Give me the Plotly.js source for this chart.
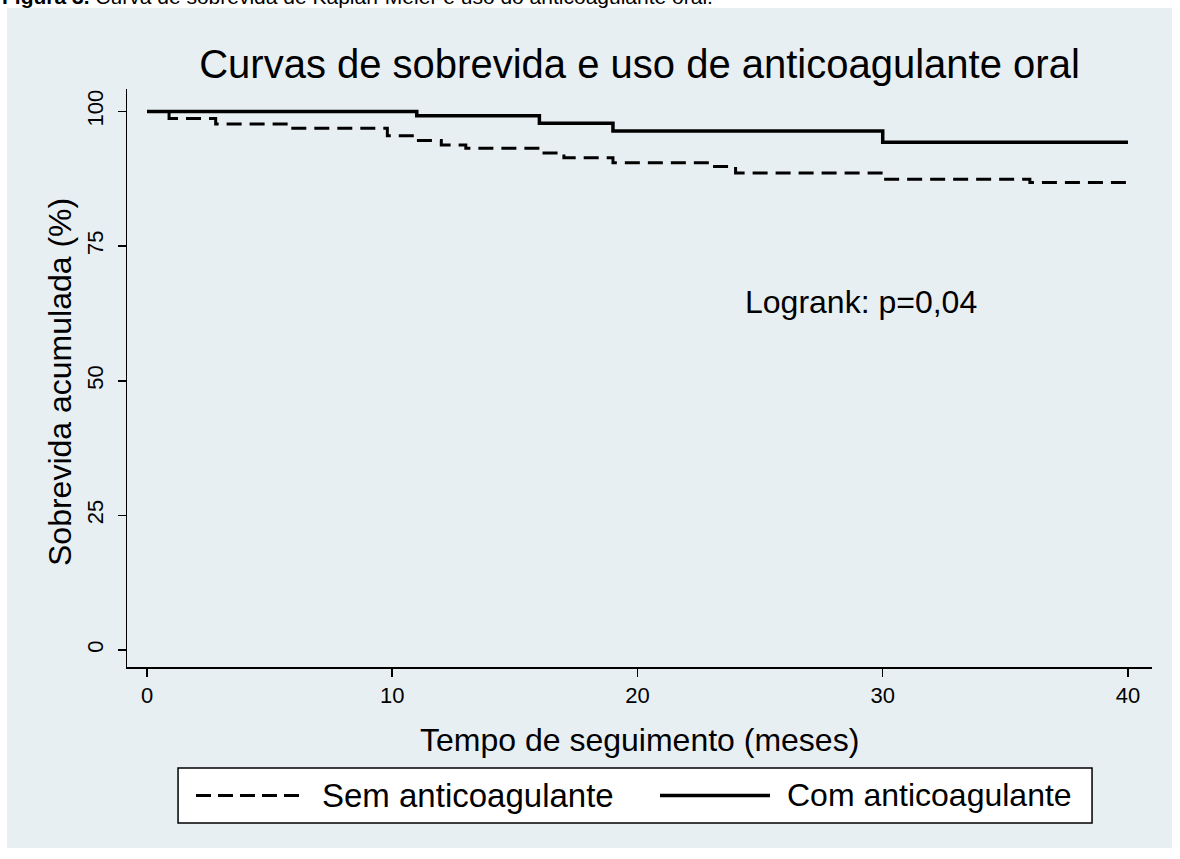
<!DOCTYPE html>
<html>
<head>
<meta charset="utf-8">
<script src="https://cdn.plot.ly/plotly-3.0.1.min.js"></script>
<style>html,body{margin:0;padding:0;background:#fff;}#chart{width:1180px;height:859px;}</style>
</head>
<body>
<div id="chart"></div>
<script>
// Kaplan-Meier survival (%)
const semTime = [0, 0.9, 2.8, 5.8, 9.8, 10.9, 12, 13, 16, 17, 19, 23, 24, 30, 36, 40];
const semSurv = [100, 98.7, 97.7, 96.9, 95.5, 94.6, 93.8, 93.2, 92.3, 91.4, 90.5, 89.8, 88.6, 87.4, 86.8, 86.8];
const comTime = [0, 11, 16, 19, 30, 40];
const comSurv = [100, 99.2, 97.8, 96.4, 94.3, 94.3];
const seriesNames = ["Sem anticoagulante", "Com anticoagulante"];
const xTicks = [0, 10, 20, 30, 40];
const yTicks = [0, 25, 50, 75, 100];
const chartTitle = "Curvas de sobrevida e uso de anticoagulante oral";
const xTitle = "Tempo de seguimento (meses)";
const yTitle = "Sobrevida acumulada (%)";
const noteText = "Logrank: p=0,04";
const captionText = "<b>Figura 3.</b> Curva de sobrevida de Kaplan-Meier e uso do anticoagulante oral.";

const FONT = "Liberation Sans, Arial, sans-serif";
const BG = "#e8eff2";

const traces = [
  {x: semTime, y: semSurv, name: seriesNames[0], mode: "lines", line: {shape: "hv", color: "black", width: 3, dash: "15px,8px"}, showlegend: false, hoverinfo: "x+y"},
  {x: comTime, y: comSurv, name: seriesNames[1], mode: "lines", line: {shape: "hv", color: "black", width: 3.5}, showlegend: false, hoverinfo: "x+y"}
];

const legY = -0.2223;
const layout = {
  width: 1180, height: 859,
  margin: {l: 127, r: 28, t: 89, b: 192, pad: 0},
  paper_bgcolor: "#ffffff",
  plot_bgcolor: "#ffffff",
  font: {family: FONT, color: "black"},
  title: {text: chartTitle, font: {family: FONT, size: 40, color: "black"}, xref: "paper", x: 0.5, xanchor: "center", yref: "container", y: 1 - 64/859, yanchor: "middle"},
  xaxis: {range: [-0.8155, 40.98], tickvals: xTicks, ticktext: xTicks.map(String), ticks: "outside", ticklen: 8, tickwidth: 1.5, tickcolor: "black",
          showline: true, linecolor: "black", linewidth: 1.5, showgrid: false, zeroline: false, tickfont: {size: 22, color: "black"}, fixedrange: true},
  yaxis: {range: [-3.157, 104.18], tickvals: yTicks, ticktext: yTicks.map(String), ticks: "outside", ticklen: 8, tickwidth: 1.5, tickcolor: "black", tickangle: -90,
          ticklabelstandoff: 6,
          showline: true, linecolor: "black", linewidth: 1.5, showgrid: true, gridcolor: "#e8eff2", gridwidth: 1.5, zeroline: false, tickfont: {size: 22, color: "black"}, fixedrange: true},
  shapes: [
    {type: "rect", xref: "paper", yref: "paper", x0: -0.117, x1: 1.0195, y0: -0.313, y1: 1.140, fillcolor: BG, line: {width: 0}, layer: "below"},
    {type: "rect", xref: "paper", yref: "paper", x0: 0.0498, x1: 0.9415, y0: -0.2699, y1: -0.1747, fillcolor: "white", line: {color: "black", width: 1.5}},
    {type: "line", xref: "paper", yref: "paper", x0: 0.0673, x1: 0.1737, y0: legY, y1: legY, line: {color: "black", width: 3, dash: "15px,7px"}},
    {type: "line", xref: "paper", yref: "paper", x0: 0.52, x1: 0.6273, y0: legY, y1: legY, line: {color: "black", width: 3.5}}
  ],
  annotations: [
    {text: captionText, xref: "paper", yref: "paper", x: -0.1239, y: 1.1375, xanchor: "left", yanchor: "bottom", showarrow: false, font: {family: FONT, size: 21, color: "black"}},
    {text: yTitle, xref: "paper", yref: "paper", x: -0.0654, y: 0.493, xanchor: "center", yanchor: "middle", textangle: -90, showarrow: false, font: {family: FONT, size: 32, color: "black"}},
    {text: xTitle, xref: "paper", yref: "paper", x: 0.5, y: -0.1263, xanchor: "center", yanchor: "middle", showarrow: false, font: {family: FONT, size: 32, color: "black"}},
    {text: noteText, xref: "x", yref: "y", x: 24.3, y: 64.6, xanchor: "left", yanchor: "middle", showarrow: false, font: {family: FONT, size: 32, color: "black"}},
    {text: seriesNames[0], xref: "paper", yref: "paper", x: 0.1883, y: legY, xanchor: "left", yanchor: "middle", showarrow: false, font: {family: FONT, size: 33, color: "black"}},
    {text: seriesNames[1], xref: "paper", yref: "paper", x: 0.642, y: legY, xanchor: "left", yanchor: "middle", showarrow: false, font: {family: FONT, size: 32, color: "black"}}
  ]
};

Plotly.newPlot("chart", traces, layout, {displayModeBar: false, staticPlot: true});
</script>
</body>
</html>
